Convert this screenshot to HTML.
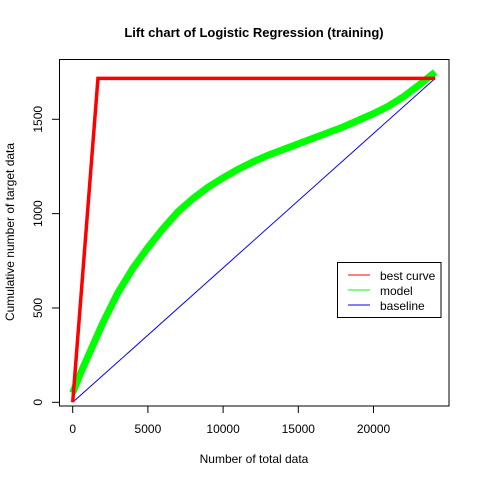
<!DOCTYPE html>
<html><head><meta charset="utf-8"><style>
html,body{margin:0;padding:0;background:#fff}
svg{display:block;font-family:"Liberation Sans",Arial,sans-serif}
</style></head><body>
<svg id="chart" width="480" height="480" viewBox="0 0 480 480">
<text x="254" y="37" text-anchor="middle" font-size="13" font-weight="bold">Lift chart of Logistic Regression (training)</text>
<text x="254" y="463" text-anchor="middle" font-size="12">Number of total data</text>
<text transform="translate(14,232) rotate(-90)" text-anchor="middle" font-size="12">Cumulative number of target data</text>
<g id="axes"></g>
<g id="series"></g>
<rect x="59.5" y="59.5" width="389.5" height="346.5" fill="none" stroke="#000" stroke-width="1"/>
<g>
<rect x="337.5" y="262.5" width="103.5" height="55" fill="#fff" stroke="#000"/>
<line x1="348" y1="275" x2="370" y2="275" stroke="#f00"/>
<text x="380" y="280" font-size="12">best curve</text>
<line x1="348" y1="290" x2="370" y2="290" stroke="#0f0"/>
<text x="380" y="295" font-size="12">model</text>
<line x1="348" y1="305" x2="370" y2="305" stroke="#00f"/>
<text x="380" y="310" font-size="12">baseline</text>
</g>
</svg>
<script>
const xTicks = [0, 5000, 10000, 15000, 20000];
const yTicks = [0, 500, 1000, 1500];
const bestX = [0, 1680, 24100];
const bestY = [0, 1717, 1717];
const baseX = [0, 24100];
const baseY = [0, 1717];
const modelX = [0,500,1000,2000,3000,4000,5000,6000,7000,8000,9000,10000,11000,12000,13000,14000,15000,16000,17000,18000,19000,20000,21000,22000,23000,24100];
const modelY = [50,150,240,420,580,710,820,920,1010,1080,1140,1190,1235,1275,1310,1340,1370,1400,1430,1460,1495,1530,1570,1620,1680,1750];

const NS = "http://www.w3.org/2000/svg";
const sx = v => 72.7 + v * 0.01504;
const sy = v => 402.3 - v * 0.18867;
const axes = document.getElementById('axes');
const series = document.getElementById('series');
function mk(tag, attrs, parent){const e=document.createElementNS(NS,tag);for(const k in attrs)e.setAttribute(k,attrs[k]);parent.appendChild(e);return e;}

xTicks.forEach(t=>{
  const l=mk('line',{x1:sx(t),y1:406,x2:sx(t),y2:413,stroke:'#000'},axes);
  
  
  const tx=mk('text',{x:sx(t),y:433,'text-anchor':'middle','font-size':12},axes);
  tx.textContent=t;
  
  
});
yTicks.forEach(t=>{
  const l=mk('line',{x1:52,y1:sy(t),x2:59,y2:sy(t),stroke:'#000'},axes);
  
  
  const tx=mk('text',{transform:`translate(42,${sy(t)}) rotate(-90)`,'text-anchor':'middle','font-size':12},axes);
  tx.textContent=t;
  
  
});
function pts(xs,ys){return xs.map((x,i)=>sx(x)+','+sy(ys[i])).join(' ');}
const base=mk('polyline',{points:pts(baseX,baseY),fill:'none',stroke:'#00f','stroke-width':1},series);


const model=mk('polyline',{points:pts(modelX,modelY),fill:'none',stroke:'#0f0','stroke-width':7,'stroke-linejoin':'round'},series);


const best=mk('polyline',{points:pts(bestX,bestY),fill:'none',stroke:'#f00','stroke-width':3.5},series);


</script>
</body></html>
